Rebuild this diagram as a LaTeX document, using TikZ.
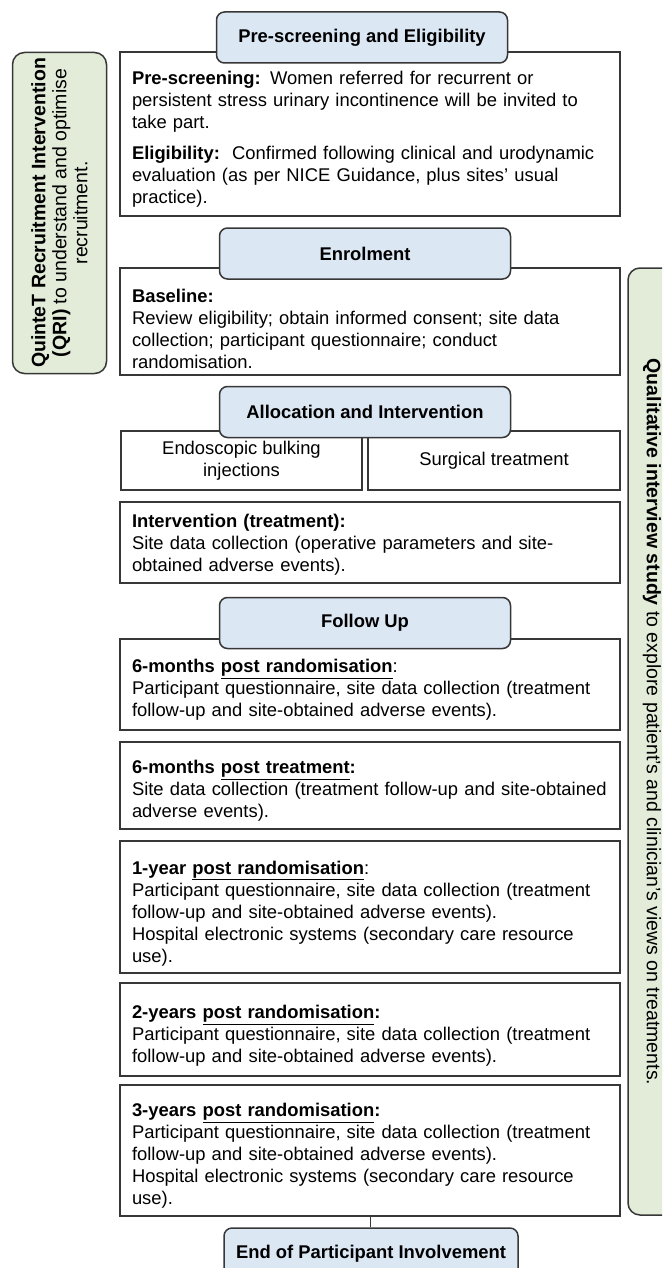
\documentclass[tikz,border=0pt]{standalone}
\usepackage{fontspec}
\setmainfont{Liberation Sans}

\definecolor{hdrblue}{RGB}{220,231,244}
\definecolor{sidegreen}{RGB}{226,236,217}
\definecolor{edgegray}{RGB}{55,55,55}

\newcommand{\bodyfont}{\fontsize{18.4}{22}\selectfont}
\newcommand{\sidefont}{\fontsize{19.5}{21}\selectfont}

\tikzset{every picture/.style={line width=0.75pt}}
\tikzset{
  stagebox/.style={draw=edgegray, line width=1.8, fill=white, text width=476,
    inner xsep=12, inner ysep=0, align=left, font=\bodyfont,
    execute at begin node={\rule{0pt}{#1pt}}},
  stagebox/.default=24,
  armbox/.style={draw=edgegray, line width=1.8, fill=white, align=center,
    inner sep=0, minimum height=59, font=\bodyfont},
  hdrbox/.style={draw=edgegray, line width=1.5, fill=hdrblue, rounded corners=8,
    minimum width=291, minimum height=51, inner sep=0, font=\bodyfont\bfseries},
  sidebox/.style={draw=edgegray, line width=1.5, fill=sidegreen, rounded corners=12,
    inner sep=0, align=center, font=\sidefont},
}

\begin{document}
\begin{tikzpicture}[x=1pt,y=1pt,yscale=-1,xscale=1]

\useasboundingbox (0,0) rectangle (662,1268);
\clip (0,0) rectangle (662,1268);

% side studies
\node (qri) [sidebox, rotate=90, minimum width=321, minimum height=94] at (59.5,213)
  {\textbf{QuinteT Recruitment Intervention}\\
   \textbf{(QRI)} to understand and optimise\\
   recruitment.};
\node (qisbox) [sidebox, minimum width=60, minimum height=947] at (658,741.5) {};
\node (qistext) [rotate=-90, inner sep=0, font=\sidefont] at (652,722)
  {\textbf{Qualitative interview study} to explore patient's and clinician's views on treatments.};

% stage boxes
\node (prescr) [stagebox, minimum height=164] at (370,134)
  {\textbf{Pre-screening:} Women referred for recurrent or\\
   persistent stress urinary incontinence will be invited to\\
   take part.\\[9pt]
   \textbf{Eligibility:}\ \ Confirmed following clinical and urodynamic\\
   evaluation (as per NICE Guidance, plus sites' usual\\
   practice).};
\node (baseline) [stagebox=28, minimum height=107] at (370,321.5)
  {\textbf{Baseline:}\\
   Review eligibility; obtain informed consent; site data\\
   collection; participant questionnaire; conduct\\
   randomisation.};
\node (endo) [armbox, minimum width=241] at (241.5,460.5)
  {Endoscopic bulking\\injections};
\node (surg) [armbox, minimum width=252] at (494,460.5)
  {Surgical treatment};
\node (interv) [stagebox=18, minimum height=81] at (370,542.5)
  {\textbf{Intervention (treatment):}\\
   Site data collection (operative parameters and site-\\
   obtained adverse events).};
\node (sixrand) [stagebox, minimum height=91] at (370,684.5)
  {\textbf{6-months \underline{post randomisation}}:\\
   Participant questionnaire, site data collection (treatment\\
   follow-up and site-obtained adverse events).};
\node (sixtreat) [stagebox, minimum height=87] at (370,785.5)
  {\textbf{6-months \underline{post treatment}:}\\
   Site data collection (treatment follow-up and site-obtained\\
   adverse events).};
\node (oneyr) [stagebox=26, minimum height=132] at (370,907)
  {\textbf{1-year \underline{post randomisation}}:\\
   Participant questionnaire, site data collection (treatment\\
   follow-up and site-obtained adverse events).\\
   Hospital electronic systems (secondary care resource\\
   use).};
\node (twoyr) [stagebox=26, minimum height=93] at (370,1029.5)
  {\textbf{2-years \underline{post randomisation}:}\\
   Participant questionnaire, site data collection (treatment\\
   follow-up and site-obtained adverse events).};
\node (threeyr) [stagebox, minimum height=131] at (370,1150.5)
  {\textbf{3-years \underline{post randomisation}:}\\
   Participant questionnaire, site data collection (treatment\\
   follow-up and site-obtained adverse events).\\
   Hospital electronic systems (secondary care resource\\
   use).};

% stage headers
\node (hdrelig) [hdrbox] at (362,37.5) {Pre-screening and Eligibility};
\node (hdrenrol) [hdrbox] at (365,253.5) {Enrolment};
\node (hdralloc) [hdrbox] at (365,412) {Allocation and Intervention};
\node (hdrfollow) [hdrbox] at (365,623) {Follow Up};
\node (hdrend) [hdrbox, minimum width=294] at (371,1253.5) {End of Participant Involvement};

\draw [edgegray, line width=1] (threeyr.south) -- (threeyr.south |- hdrend.north);

\end{tikzpicture}
\end{document}
